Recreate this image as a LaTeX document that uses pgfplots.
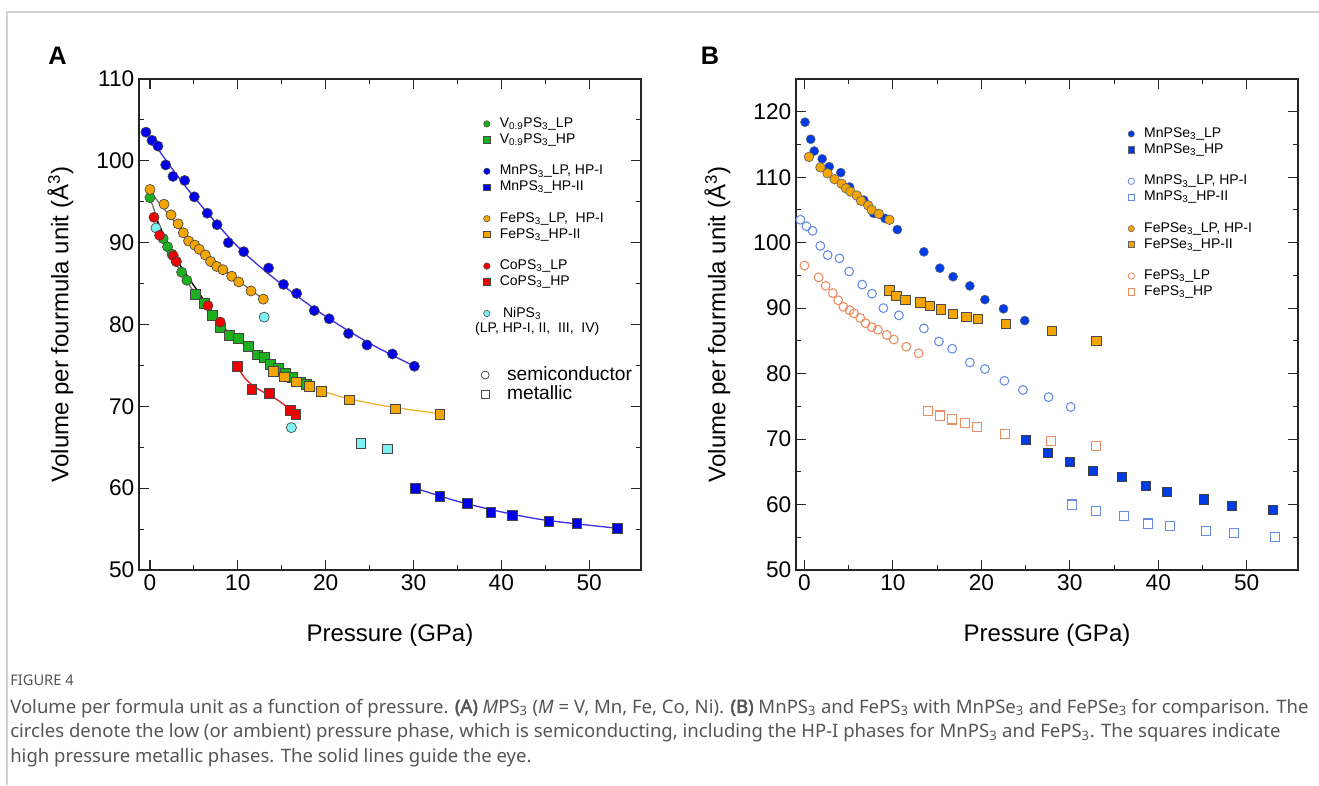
\documentclass[border=0pt]{standalone}
\usepackage{fontspec}
\setmainfont{Liberation Sans}
\newfontfamily\capfont[BoldFont={Noto Sans}, BoldFeatures={FakeBold=2.5}]{Noto Sans}
\usepackage{pgfplots}
\usepackage{pgfplotstable}
\pgfplotsset{compat=1.18}

\definecolor{vgreen}{RGB}{30,175,30}
\definecolor{mnblue}{RGB}{0,0,235}
\definecolor{feorange}{RGB}{245,165,0}
\definecolor{cored}{RGB}{240,0,0}
\definecolor{nicyan}{RGB}{128,240,240}
\definecolor{edge}{RGB}{70,70,70}
\definecolor{lnblue}{RGB}{60,50,220}
\definecolor{lnorange}{RGB}{245,180,50}
\definecolor{lnred}{RGB}{230,30,30}
\definecolor{lngray}{RGB}{120,120,100}
\definecolor{seblue}{RGB}{0,60,230}
\definecolor{openblue}{RGB}{100,140,230}
\definecolor{opensalmon}{RGB}{235,140,95}
\definecolor{capgray}{RGB}{85,85,85}

% panel A data (pressure GPa, volume A^3)
\pgfplotstableread{
P V
-0.46 103.5
0.23 102.5
0.91 101.8
1.79 99.5
2.62 98.1
3.95 97.6
5.05 95.6
6.53 93.6
7.63 92.2
8.92 90.0
10.67 88.9
13.5 86.9
15.2 84.9
16.7 83.8
18.7 81.7
20.4 80.7
22.6 78.9
24.7 77.5
27.6 76.4
30.1 74.9
}\mnlp
\pgfplotstableread{
P V
30.2 60.0
33.0 59.0
36.1 58.2
38.8 57.1
41.3 56.7
45.4 56.0
48.6 55.7
53.2 55.1
}\mnhp
\pgfplotstableread{
P V
0.0 96.5
1.6 94.7
2.4 93.4
3.2 92.3
3.8 91.2
4.4 90.2
5.1 89.7
5.6 89.2
6.3 88.5
6.9 87.7
7.6 87.1
8.3 86.7
9.3 85.9
10.1 85.2
11.5 84.1
12.9 83.1
}\felp
\pgfplotstableread{
P V
14.0 74.3
15.3 73.6
16.7 73.0
18.1 72.4
19.5 71.8
22.7 70.8
27.9 69.7
33.0 69.0
}\fehp
\pgfplotstableread{
P V
0.0 95.5
1.5 90.5
2.0 89.5
2.5 88.6
3.0 87.7
3.6 86.4
4.2 85.4
}\vlp
\pgfplotstableread{
P V
5.2 83.7
6.2 82.6
7.1 81.1
8.0 79.6
9.0 78.7
10.1 78.3
11.2 77.3
12.2 76.3
13.0 76.0
13.7 75.1
14.6 74.7
15.4 74.1
16.2 73.5
17.1 73.0
17.8 72.7
}\vhp
\pgfplotstableread{
P V
0.46 93.1
1.1 90.9
2.65 88.4
3.0 87.7
6.6 82.3
8.0 80.3
}\colp
\pgfplotstableread{
P V
9.9 74.9
11.6 72.1
13.6 71.6
16.0 69.5
16.6 69.0
}\cohp
\pgfplotstableread{
P V
0.68 91.8
13.0 80.9
16.1 67.4
}\nilp
\pgfplotstableread{
P V
24.0 65.5
27.0 64.8
}\nihp

% panel B data
\pgfplotstableread{
P V
0.06 118.4
0.7 115.8
1.1 114.0
2.0 112.8
2.8 111.6
4.1 110.7
5.1 108.5
6.7 106.5
7.8 104.5
9.1 103.7
10.5 102.0
13.5 98.6
15.3 96.1
16.8 94.8
18.7 93.4
20.4 91.3
22.5 89.9
24.9 88.1
}\mnselp
\pgfplotstableread{
P V
25.0 69.9
27.5 67.9
30.0 66.5
32.6 65.1
35.9 64.2
38.6 62.9
41.0 61.9
45.1 60.8
48.3 59.8
53.0 59.2
}\mnsehp
\pgfplotstableread{
P V
0.5 113.1
1.8 111.5
2.6 110.6
3.4 109.7
4.2 109.0
4.7 108.3
5.2 107.8
5.9 107.2
6.4 106.4
7.2 105.7
7.6 105.0
8.4 104.4
9.6 103.5
}\fepselp
\pgfplotstableread{
P V
9.6 92.7
10.4 91.9
11.4 91.3
13.1 90.9
14.2 90.3
15.4 89.8
16.8 89.1
18.3 88.7
19.6 88.4
22.8 87.6
28.0 86.5
33.0 85.0
}\fepsehp

\pgfplotsset{
  panel/.style={
    scale only axis, width=376.5pt, height=368.25pt,
    anchor=south west,
    axis line style={line width=0.9pt, black!85},
    every tick/.style={black!85, line width=0.8pt},
    major tick length=7.5pt, minor tick length=4pt,
    xtick={0,10,...,50}, minor x tick num=1, minor y tick num=1,
    tick label style={font=\fontsize{17}{17}\selectfont},
    /pgf/number format/assume math mode=true,
    every axis x label/.style={at={(axis description cs:0.5,-0.1466)}, anchor=base,
      font=\fontsize{18}{18}\selectfont},
    every axis y label/.style={at={(axis description cs:-0.1408,0.5)}, rotate=90, anchor=base,
      font=\fontsize{18}{18}\selectfont},
    xlabel={Pressure (GPa)},
    ylabel={Volume per fourmula unit (Å\textsuperscript{3})},
    legend cell align=left,
    legend image code/.code={\draw[##1] plot[only marks, mark size=2.4pt] coordinates {(0pt,0pt)};},
    legend style={draw=none, fill=none, inner sep=0pt, anchor=north west,
      font=\fontsize{10.5}{12}\selectfont, row sep=1.35pt, column sep=7.3pt,
      nodes={inner sep=0pt, text height=8pt, text depth=2.5pt}},
  },
  dotA/.style={only marks, mark=*, mark size=3.8pt, forget plot,
    mark options={fill=#1, draw=edge, line width=0.5pt}},
  sqA/.style={only marks, mark=square*, mark size=3.7pt, forget plot,
    mark options={fill=#1, draw=edge, line width=0.5pt}},
  guide/.style={smooth, line width=1pt, forget plot, #1},
}

\begin{document}
\begin{tikzpicture}
\path[use as bounding box] (0,0) rectangle (989.25pt,-588.75pt);
\draw[black!18, line width=1.1pt] (989.25pt,-9pt) -- (5.25pt,-9pt) -- (5.25pt,-588.75pt);

% ---------- panel A ----------
\begin{axis}[panel, at={(104.25pt,-427.5pt)},
  xmin=-1.25, xmax=55.9, ymin=50, ymax=110, ytick={50,60,...,110},
  legend style={at={(0.686,0.9234)}}]
\addplot[guide=lngray] coordinates {(0,95.5) (2,89.5) (4,85.6) (6,82.6) (8,80.1) (10,78.1) (13,75.8) (16,73.8) (18,72.6)};
\addplot[guide=black] coordinates {(0.46,93.4) (3,88.0) (6.4,82.6)};
\addplot[guide=lngray] coordinates {(0,96.3) (3,92.3) (6,88.9) (9,86.2) (12.9,83.1)};
\addplot[guide=lnorange] coordinates {(14,74.3) (18,72.5) (22,71.1) (27,70.0) (33,69.1)};
\addplot[guide=lnred] coordinates {(9.9,74.9) (11,73.2) (12.5,72.0) (14.5,70.8) (16.6,69.1)};
\addplot[guide=lnblue] coordinates {(-0.5,103.7) (2,99.8) (5,95.6) (10,89.5) (15,84.9) (20,81.0) (25,77.7) (30.1,74.9)};
\addplot[guide=lnblue] coordinates {(30.2,60.0) (35,58.4) (40,57.1) (45,56.1) (53.2,55.1)};

\addplot[dotA=vgreen] table {\vlp};
\addplot[sqA=vgreen] table {\vhp};
\addplot[dotA=nicyan] table {\nilp};
\addplot[sqA=nicyan] table {\nihp};
\addplot[dotA=cored] table {\colp};
\addplot[sqA=cored] table {\cohp};
\addplot[dotA=feorange] table {\felp};
\addplot[sqA=feorange] table {\fehp};
\addplot[dotA=mnblue] table {\mnlp};
\addplot[sqA=mnblue] table {\mnhp};

\addlegendimage{mark=*, mark options={fill=vgreen, draw=edge, line width=0.4pt}}
\addlegendentry{V\textsubscript{0.9}PS\textsubscript{3}\_LP}
\addlegendimage{mark=square*, mark options={fill=vgreen, draw=edge, line width=0.4pt}}
\addlegendentry{V\textsubscript{0.9}PS\textsubscript{3}\_HP}
\addlegendimage{empty legend}\addlegendentry{}
\addlegendimage{mark=*, mark options={fill=mnblue, draw=edge, line width=0.4pt}}
\addlegendentry{MnPS\textsubscript{3}\_LP, HP-I}
\addlegendimage{mark=square*, mark options={fill=mnblue, draw=edge, line width=0.4pt}}
\addlegendentry{MnPS\textsubscript{3}\_HP-II}
\addlegendimage{empty legend}\addlegendentry{}
\addlegendimage{mark=*, mark options={fill=feorange, draw=edge, line width=0.4pt}}
\addlegendentry{FePS\textsubscript{3}\_LP,\ \ HP-I}
\addlegendimage{mark=square*, mark options={fill=feorange, draw=edge, line width=0.4pt}}
\addlegendentry{FePS\textsubscript{3}\_HP-II}
\addlegendimage{empty legend}\addlegendentry{}
\addlegendimage{mark=*, mark options={fill=cored, draw=edge, line width=0.4pt}}
\addlegendentry{CoPS\textsubscript{3}\_LP}
\addlegendimage{mark=square*, mark options={fill=cored, draw=edge, line width=0.4pt}}
\addlegendentry{CoPS\textsubscript{3}\_HP}
\addlegendimage{empty legend}\addlegendentry{}
\addlegendimage{mark=*, mark options={fill=nicyan, draw=edge, line width=0.4pt}}
\addlegendentry{\hspace*{2.5pt}NiPS\textsubscript{3}}
\addlegendimage{empty legend}
\addlegendentry{\hspace*{-18.5pt}(LP, HP-I, II,\ \ III,\ \ IV)}
\end{axis}

% semiconductor / metallic key
\begin{axis}[panel, at={(104.25pt,-427.5pt)}, hide axis,
  xmin=0, xmax=1, ymin=0, ymax=1,
  legend image code/.code={\draw[#1] plot[only marks, mark size=3pt] coordinates {(0pt,0pt)};},
  legend style={at={(0.681,0.416)}, font=\fontsize{14.4}{15}\selectfont,
    row sep=1pt, column sep=13.5pt,
    nodes={inner sep=0pt, text height=10.5pt, text depth=3pt}}]
\addlegendimage{mark=o, mark options={draw=black!70, line width=0.6pt}}
\addlegendentry{semiconductor}
\addlegendimage{mark=square, mark options={draw=black!70, line width=0.6pt}}
\addlegendentry{metallic}
\end{axis}

% ---------- panel B ----------
\begin{axis}[panel, at={(597pt,-427.5pt)},
  xmin=-0.96, xmax=55.8, ymin=50, ymax=125, ytick={50,60,...,120},
  legend style={at={(0.661,0.903)}}]
\addplot[only marks, mark=o, mark size=3.3pt, forget plot,
  mark options={draw=openblue, line width=0.8pt}] table {\mnlp};
\addplot[only marks, mark=square, mark size=3.4pt, forget plot,
  mark options={draw=openblue, line width=0.8pt}] table {\mnhp};
\addplot[only marks, mark=o, mark size=3.3pt, forget plot,
  mark options={draw=opensalmon, line width=0.8pt}] table {\felp};
\addplot[only marks, mark=square, mark size=3.4pt, forget plot,
  mark options={draw=opensalmon, line width=0.8pt}] table {\fehp};
\addplot[only marks, mark=*, mark size=3.4pt, forget plot,
  mark options={fill=seblue, draw=black!60, line width=0.4pt}] table {\mnselp};
\addplot[only marks, mark=square*, mark size=3.4pt, forget plot,
  mark options={fill=seblue, draw=black!75, line width=0.5pt}] table {\mnsehp};
\addplot[only marks, mark=*, mark size=3.6pt, forget plot,
  mark options={fill=feorange, draw=black!60, line width=0.5pt}] table {\fepselp};
\addplot[only marks, mark=square*, mark size=3.5pt, forget plot,
  mark options={fill=feorange, draw=black!70, line width=0.6pt}] table {\fepsehp};

\addlegendimage{mark=*, mark options={fill=seblue, draw=black!60, line width=0.4pt}}
\addlegendentry{MnPSe\textsubscript{3}\_LP}
\addlegendimage{mark=square*, mark options={fill=seblue, draw=black!60, line width=0.4pt}}
\addlegendentry{MnPSe\textsubscript{3}\_HP}
\addlegendimage{empty legend}\addlegendentry{}
\addlegendimage{mark=o, mark options={draw=openblue, line width=0.6pt}}
\addlegendentry{MnPS\textsubscript{3}\_LP, HP-I}
\addlegendimage{mark=square, mark options={draw=openblue, line width=0.6pt}}
\addlegendentry{MnPS\textsubscript{3}\_HP-II}
\addlegendimage{empty legend}\addlegendentry{}
\addlegendimage{mark=*, mark options={fill=feorange, draw=black!60, line width=0.4pt}}
\addlegendentry{FePSe\textsubscript{3}\_LP, HP-I}
\addlegendimage{mark=square*, mark options={fill=feorange, draw=black!60, line width=0.4pt}}
\addlegendentry{FePSe\textsubscript{3}\_HP-II}
\addlegendimage{empty legend}\addlegendentry{}
\addlegendimage{mark=o, mark options={draw=opensalmon, line width=0.6pt}}
\addlegendentry{FePS\textsubscript{3}\_LP}
\addlegendimage{mark=square, mark options={draw=opensalmon, line width=0.6pt}}
\addlegendentry{FePS\textsubscript{3}\_HP}
\end{axis}

% panel letters
\node[font=\bfseries\fontsize{19}{19}\selectfont] at (43.1pt,-42pt) {A};
\node[font=\bfseries\fontsize{19}{19}\selectfont] at (532.5pt,-42pt) {B};

% caption
\begin{scope}[every node/.style={anchor=base west, inner sep=0pt, text=capgray}]
\node[font=\capfont\fontsize{11}{12}\selectfont] at (7.5pt,-513.75pt) {FIGURE 4};
\node[font=\capfont\fontsize{13.9}{15}\selectfont] at (7.5pt,-534.75pt)
  {Volume per formula unit as a function of pressure. \textbf{(A)} \textit{M}PS\textsubscript{3} (\textit{M} = V, Mn, Fe, Co, Ni). \textbf{(B)} MnPS\textsubscript{3} and FePS\textsubscript{3} with MnPSe\textsubscript{3} and FePSe\textsubscript{3} for comparison. The};
\node[font=\capfont\fontsize{13.9}{15}\selectfont] at (7.5pt,-553.1pt)
  {circles denote the low (or ambient) pressure phase, which is semiconducting, including the HP-I phases for MnPS\textsubscript{3} and FePS\textsubscript{3}. The squares indicate};
\node[font=\capfont\fontsize{13.9}{15}\selectfont] at (7.5pt,-571.5pt)
  {high pressure metallic phases. The solid lines guide the eye.};
\end{scope}
\end{tikzpicture}
\end{document}
